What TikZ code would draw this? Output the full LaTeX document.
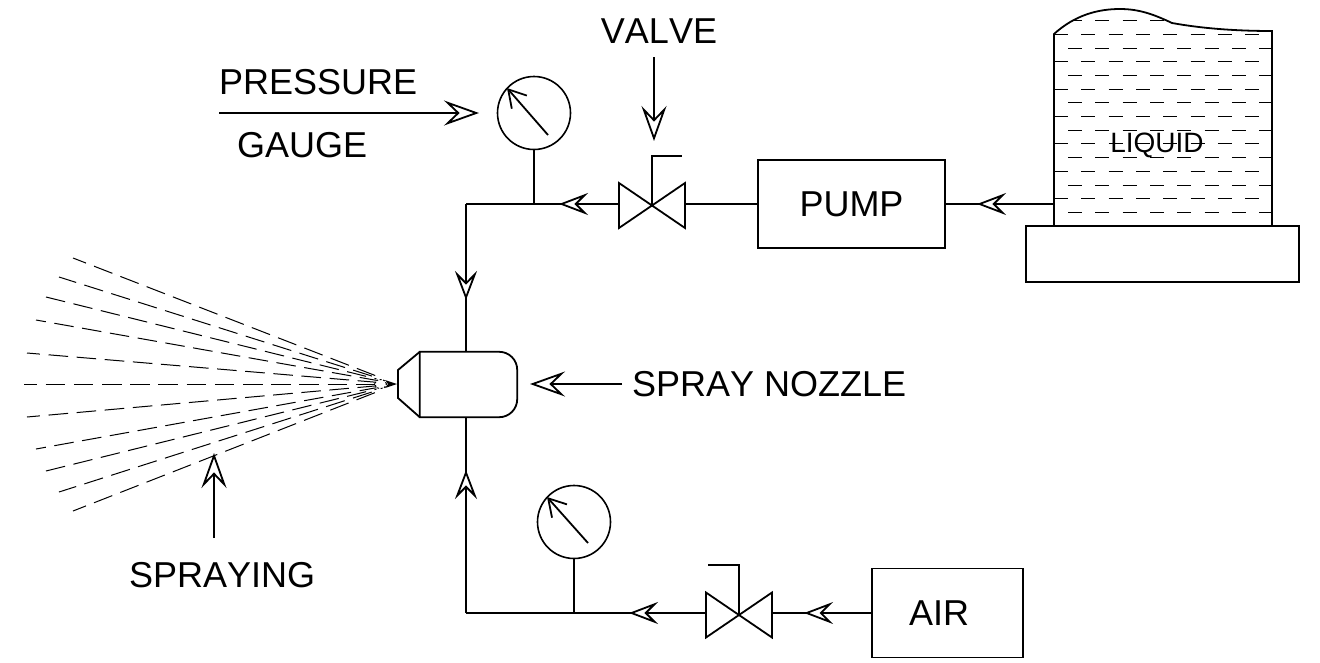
\documentclass[tikz,border=0pt]{standalone}
\usepackage{fontspec}
\setmainfont[Kerning=Off]{Liberation Sans}
\usetikzlibrary{arrows.meta, calc, decorations.markings}
\tikzset{
  pipe/.style={line width=1.8pt},
  unit/.style={rectangle, draw=black, line width=1.8pt, font=\fontsize{36}{36}\selectfont},
  gauge/.style={circle, draw=black, line width=1.6pt, minimum size=73pt},
  valvebody/.style={rectangle, outer sep=0pt, minimum width=66pt, minimum height=45pt},
  label/.style={font=\fontsize{36}{36}\selectfont},
  flow/.style={postaction={decorate, decoration={markings, mark=at position #1 with {\arrow[line width=1.8pt]{Stealth[length=29pt, width=22pt, inset=11pt, fill=white]}}}}},
  pointer/.style={line width=1.8pt, -{Stealth[length=35pt, width=25pt, inset=13pt, fill=white]}},
  needle/.style={line width=1.8pt, -{Straight Barb[length=17pt, width=20pt]}},
  liquiddash/.style={line width=1pt, dash pattern=on 14pt off 13.33pt},
  spraydash/.style={line width=1pt, dash pattern=on 19.6pt off 8.6pt}
}
\begin{document}
\begin{tikzpicture}
[every node/.style={inner sep=0pt}]
\useasboundingbox (0pt, 0pt) rectangle (1320pt, -662pt);
\node (pump) [unit, minimum width=187pt, minimum height=88pt] at (851.5pt, -204pt) {PUMP};
\node (air) [unit, minimum width=151pt, minimum height=89pt] at (947.5pt, -613pt) {};
\node (airlabel) [label] at (939pt, -613pt) {AIR};
\node (base) [unit, minimum width=273pt, minimum height=56pt] at (1162.5pt, -254pt) {};
\node (gauge1) [gauge] at (534pt, -113pt) {};
\node (gauge2) [gauge] at (574pt, -522pt) {};
\node (valve1) [valvebody] at (652pt, -205.5pt) {};
\node (valve2) [valvebody] at (739pt, -615pt) {};
\node (nozzle) [minimum width=97pt, minimum height=65pt] at (468.5pt, -384.5pt) {};
\coordinate (tee1) at (534pt, -204pt);
\coordinate (corner1) at (466pt, -204pt);
\coordinate (tee2) at (574pt, -613pt);
\coordinate (corner2) at (466pt, -613pt);
\coordinate (tankout) at (1054pt, -204pt);
\coordinate (spraytip) at (397pt, -384pt);
% tank
\foreach \rowy in {34.3, 61.7, 89, 116.4, 143.8, 171.2, 198.6, 226} {
  \draw [liquiddash] (1054pt, -\rowy pt) -- (1259pt, -\rowy pt);
}
\foreach \rowy in {48, 75.4, 102.7, 130, 157.5, 185, 212} {
  \draw [liquiddash] (1068pt, -\rowy pt) -- (1272pt, -\rowy pt);
}
\draw [liquiddash, dash phase=4pt] (1072pt, -20.7pt) -- (1168pt, -20.7pt);
\draw [pipe] (1054pt, -226pt) -- (1054pt, -34pt) .. controls (1075pt, -15pt) and (1098pt, -9pt) .. (1120pt, -9pt) .. controls (1140pt, -9pt) and (1155pt, -15pt) .. (1172pt, -23pt) .. controls (1205pt, -29pt) and (1240pt, -31pt) .. (1272pt, -31pt) -- (1272pt, -226pt);
\node (liquid) [font=\fontsize{28}{28}\selectfont] at (1157pt, -145pt) {LIQUID};
% upper line
\draw [pipe, flow=77pt] (tankout) -- (pump.east);
\draw [pipe] (pump.west) -- (pump.west -| valve1.east);
\draw [pipe, flow=60pt] (tee1 -| valve1.west) -- (tee1);
\draw [pipe] (tee1) -- (corner1);
\draw [pipe, flow=96pt] (corner1) -- (corner1 |- nozzle.north);
\draw [pipe] (gauge1.south) -- (tee1);
\draw [pipe] (valve1.north west) -- (valve1.south east) -- (valve1.north east) -- (valve1.south west) -- cycle;
\draw [pipe] (valve1.center) -- (652pt, -156pt) -- (682pt, -156pt);
\draw [needle] (548pt, -135pt) -- (507pt, -88pt);
% lower line
\draw [pipe, flow=67pt] (air.west) -- (tee2 -| valve2.east);
\draw [pipe, flow=77pt] (tee2 -| valve2.west) -- (tee2);
\draw [pipe] (tee2) -- (corner2);
\draw [pipe, flow=143pt] (corner2) -- (corner2 |- nozzle.south);
\draw [pipe] (gauge2.south) -- (tee2);
\draw [pipe] (valve2.north west) -- (valve2.south east) -- (valve2.north east) -- (valve2.south west) -- cycle;
\draw [pipe] (valve2.center) -- (739pt, -565pt) -- (708pt, -565pt);
\draw [needle] (588pt, -543pt) -- (547pt, -497pt);
% nozzle
\draw [pipe] (nozzle.north west) [rounded corners=18pt] -- (nozzle.north east) -- (nozzle.south east) [sharp corners] -- (nozzle.south west) -- cycle;
\draw [pipe] (nozzle.north west) -- (398pt, -370pt) -- (398pt, -398pt) -- (nozzle.south west);
% spray
\foreach \endx/\endy/\dashskip in {73/258/5.6, 59/277/1.6, 46/297/0, 36/320/9.6, 27/353/6.6, 24/384/6.6, 27/417/6.6, 36/449/9.6, 46/471/0, 59/492/1.6, 73/511/5.6} {
  \draw [spraydash, dash phase=\dashskip pt] (\endx pt, -\endy pt) -- ($(spraytip)!21pt!(\endx pt, -\endy pt)$);
}
\draw [line width=1pt, dash pattern=on 2pt off 1.5pt] (380.5pt, -384pt) ellipse (6pt and 4.5pt);
\fill (397pt, -384pt) -- (385pt, -380pt) -- (388pt, -384pt) -- (385pt, -388pt) -- cycle;
% labels
\node (valvetext) [label] at (659pt, -31pt) {VALVE};
\node (pressuretext) [label, anchor=west] at (219pt, -82pt) {PRESSURE};
\node (gaugetext) [label, anchor=west] at (237pt, -145pt) {GAUGE};
\node (nozzletext) [label, anchor=west] at (632pt, -384pt) {SPRAY NOZZLE};
\node (sprayingtext) [label, anchor=west] at (129pt, -575pt) {SPRAYING};
\coordinate (valvefrom) at (654pt, -57pt);
\coordinate (gaugefrom) at (219pt, -113pt);
\coordinate (nozzlefrom) at (622pt, -384pt);
\coordinate (sprayfrom) at (214pt, -538pt);
\draw [pointer] (valvefrom) -- (654pt, -141pt);
\draw [pointer] (gaugefrom) -- (479pt, -113pt);
\draw [pointer] (nozzlefrom) -- (530pt, -384pt);
\draw [pointer] (sprayfrom) -- (214pt, -453pt);
\end{tikzpicture}
\end{document}
